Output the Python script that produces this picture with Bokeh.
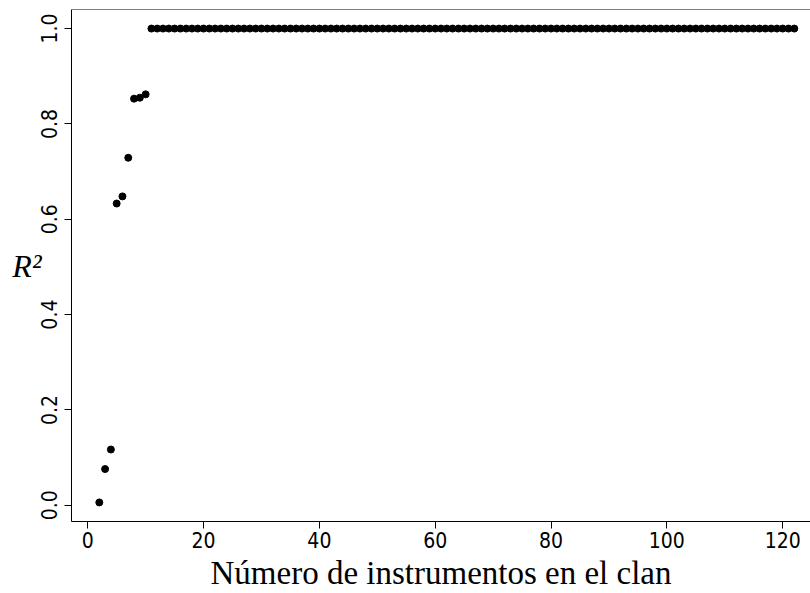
from bokeh.plotting import figure
from bokeh.models import (Range1d, FixedTicker, NumeralTickFormatter, Span,
                          ColumnDataSource)
from bokeh.embed import file_html
from bokeh.resources import INLINE

# ---- data ----
n_instruments = list(range(2, 123))
r2_values = [0.006, 0.076, 0.117, 0.633, 0.648, 0.729, 0.853, 0.855, 0.862,
             1.0, 1.0, 1.0, 1.0, 1.0, 1.0, 1.0, 1.0, 1.0, 1.0,
             1.0, 1.0, 1.0, 1.0, 1.0, 1.0, 1.0, 1.0, 1.0, 1.0,
             1.0, 1.0, 1.0, 1.0, 1.0, 1.0, 1.0, 1.0, 1.0, 1.0,
             1.0, 1.0, 1.0, 1.0, 1.0, 1.0, 1.0, 1.0, 1.0, 1.0,
             1.0, 1.0, 1.0, 1.0, 1.0, 1.0, 1.0, 1.0, 1.0, 1.0,
             1.0, 1.0, 1.0, 1.0, 1.0, 1.0, 1.0, 1.0, 1.0, 1.0,
             1.0, 1.0, 1.0, 1.0, 1.0, 1.0, 1.0, 1.0, 1.0, 1.0,
             1.0, 1.0, 1.0, 1.0, 1.0, 1.0, 1.0, 1.0, 1.0, 1.0,
             1.0, 1.0, 1.0, 1.0, 1.0, 1.0, 1.0, 1.0, 1.0, 1.0,
             1.0, 1.0, 1.0, 1.0, 1.0, 1.0, 1.0, 1.0, 1.0, 1.0,
             1.0, 1.0, 1.0, 1.0, 1.0, 1.0, 1.0, 1.0, 1.0, 1.0,
             1.0, 1.0]
x_ticks = [0, 20, 40, 60, 80, 100, 120]
y_ticks = [0.0, 0.2, 0.4, 0.6, 0.8, 1.0]
x_label = "Número de instrumentos en el clan"
y_label = "R²"

src = ColumnDataSource(dict(x=n_instruments[:len(r2_values)], y=r2_values[:len(n_instruments)]))

Y_START, Y_END = -0.034, 1.04
p = figure(width=810, height=593, output_backend="svg", toolbar_location=None,
           x_range=Range1d(-2.8, 124.8), y_range=Range1d(Y_START, Y_END),
           min_border_left=71, min_border_right=0, min_border_top=9,
           min_border_bottom=72)
p.outline_line_color = None
p.xgrid.visible = False
p.ygrid.visible = False
p.background_fill_color = "white"
p.border_fill_color = "white"

sans = "'Liberation Sans Narrow', 'DejaVu Sans Condensed', 'Liberation Sans', sans-serif"

for ax in (p.xaxis[0], p.yaxis[0]):
    ax.axis_line_color = "black"
    ax.axis_line_width = 1
    ax.major_tick_line_color = "black"
    ax.major_tick_out = 7
    ax.major_tick_in = 0
    ax.minor_tick_line_color = None
    ax.major_label_text_font = sans
    ax.major_label_text_font_size = "21px"
    ax.major_label_text_color = "black"
    ax.axis_label_text_font = "Liberation Serif"
    ax.axis_label_text_color = "black"

xa = p.xaxis[0]
xa.ticker = FixedTicker(ticks=x_ticks)
xa.major_label_standoff = 3
xa.axis_label = x_label
xa.axis_label_text_font_size = "33px"
xa.axis_label_text_font_style = "normal"
xa.axis_label_standoff = 4

ya = p.yaxis[0]
ya.ticker = FixedTicker(ticks=y_ticks)
ya.formatter = NumeralTickFormatter(format="0.0")
ya.major_label_orientation = "vertical"
ya.major_label_standoff = 7
ya.axis_label = y_label
ya.axis_label_text_font_size = "32px"
ya.axis_label_text_font_style = "italic"
ya.axis_label_standoff = -3
if "axis_label_orientation" in ya.properties():
    ya.axis_label_orientation = "horizontal"

p.add_layout(Span(location=Y_END, dimension="width", line_color="black", line_width=1))

p.scatter("x", "y", source=src, size=7, marker="circle",
          fill_color="black", line_color="black")

open("out.html", "w").write(file_html(p, INLINE))
